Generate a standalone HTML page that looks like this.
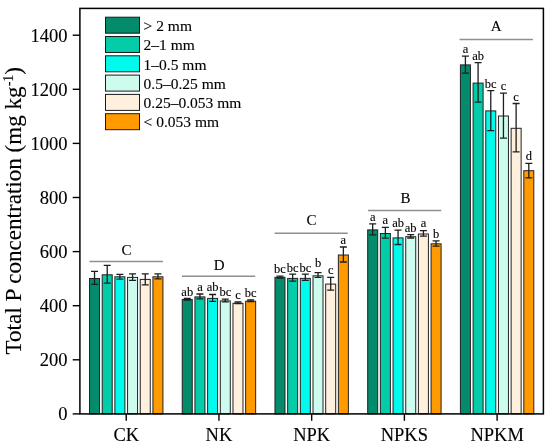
<!DOCTYPE html>
<html><head><meta charset="utf-8"><style>
html,body{margin:0;padding:0;background:#fff;}
svg{display:block;font-family:"Liberation Serif", serif;fill:#000;will-change:transform;}
svg text{font-family:"Liberation Serif", serif;fill:#000;stroke:#000;stroke-width:0.12px;}
</style></head><body>
<svg width="550" height="447" viewBox="0 0 550 447">
<rect x="0" y="0" width="550" height="447" fill="#fff"/>
<rect x="89.53" y="278.50" width="10.00" height="135.40" fill="#038b6b" stroke="#222" stroke-width="1"/>
<rect x="102.21" y="274.80" width="10.00" height="139.10" fill="#05cca8" stroke="#222" stroke-width="1"/>
<rect x="114.89" y="276.80" width="10.00" height="137.10" fill="#00fbec" stroke="#222" stroke-width="1"/>
<rect x="127.57" y="277.40" width="10.00" height="136.50" fill="#cdfcee" stroke="#222" stroke-width="1"/>
<rect x="140.25" y="279.40" width="10.00" height="134.50" fill="#fff0de" stroke="#222" stroke-width="1"/>
<rect x="152.93" y="276.80" width="10.00" height="137.10" fill="#ff9b00" stroke="#222" stroke-width="1"/>
<rect x="182.25" y="299.50" width="10.00" height="114.40" fill="#038b6b" stroke="#222" stroke-width="1"/>
<rect x="194.93" y="296.90" width="10.00" height="117.00" fill="#05cca8" stroke="#222" stroke-width="1"/>
<rect x="207.61" y="298.40" width="10.00" height="115.50" fill="#00fbec" stroke="#222" stroke-width="1"/>
<rect x="220.29" y="300.90" width="10.00" height="113.00" fill="#cdfcee" stroke="#222" stroke-width="1"/>
<rect x="232.97" y="303.30" width="10.00" height="110.60" fill="#fff0de" stroke="#222" stroke-width="1"/>
<rect x="245.65" y="301.20" width="10.00" height="112.70" fill="#ff9b00" stroke="#222" stroke-width="1"/>
<rect x="274.97" y="277.30" width="10.00" height="136.60" fill="#038b6b" stroke="#222" stroke-width="1"/>
<rect x="287.65" y="278.40" width="10.00" height="135.50" fill="#05cca8" stroke="#222" stroke-width="1"/>
<rect x="300.33" y="278.40" width="10.00" height="135.50" fill="#00fbec" stroke="#222" stroke-width="1"/>
<rect x="313.01" y="275.80" width="10.00" height="138.10" fill="#cdfcee" stroke="#222" stroke-width="1"/>
<rect x="325.69" y="284.10" width="10.00" height="129.80" fill="#fff0de" stroke="#222" stroke-width="1"/>
<rect x="338.37" y="255.00" width="10.00" height="158.90" fill="#ff9b00" stroke="#222" stroke-width="1"/>
<rect x="367.69" y="229.90" width="10.00" height="184.00" fill="#038b6b" stroke="#222" stroke-width="1"/>
<rect x="380.37" y="233.50" width="10.00" height="180.40" fill="#05cca8" stroke="#222" stroke-width="1"/>
<rect x="393.05" y="237.90" width="10.00" height="176.00" fill="#00fbec" stroke="#222" stroke-width="1"/>
<rect x="405.73" y="236.70" width="10.00" height="177.20" fill="#cdfcee" stroke="#222" stroke-width="1"/>
<rect x="418.41" y="234.00" width="10.00" height="179.90" fill="#fff0de" stroke="#222" stroke-width="1"/>
<rect x="431.09" y="243.80" width="10.00" height="170.10" fill="#ff9b00" stroke="#222" stroke-width="1"/>
<rect x="460.41" y="64.90" width="10.00" height="349.00" fill="#038b6b" stroke="#222" stroke-width="1"/>
<rect x="473.09" y="83.10" width="10.00" height="330.80" fill="#05cca8" stroke="#222" stroke-width="1"/>
<rect x="485.77" y="110.90" width="10.00" height="303.00" fill="#00fbec" stroke="#222" stroke-width="1"/>
<rect x="498.45" y="116.00" width="10.00" height="297.90" fill="#cdfcee" stroke="#222" stroke-width="1"/>
<rect x="511.13" y="128.30" width="10.00" height="285.60" fill="#fff0de" stroke="#222" stroke-width="1"/>
<rect x="523.81" y="170.70" width="10.00" height="243.20" fill="#ff9b00" stroke="#222" stroke-width="1"/>
<path d="M94.53 271.30V284.40M91.03 271.30H98.03M91.03 284.40H98.03" stroke="#1e1e1e" stroke-width="1.3" fill="none"/>
<path d="M107.21 265.40V283.20M103.71 265.40H110.71M103.71 283.20H110.71" stroke="#1e1e1e" stroke-width="1.3" fill="none"/>
<path d="M119.89 274.40V279.20M116.39 274.40H123.39M116.39 279.20H123.39" stroke="#1e1e1e" stroke-width="1.3" fill="none"/>
<path d="M132.57 273.90V280.30M129.07 273.90H136.07M129.07 280.30H136.07" stroke="#1e1e1e" stroke-width="1.3" fill="none"/>
<path d="M145.25 273.90V284.80M141.75 273.90H148.75M141.75 284.80H148.75" stroke="#1e1e1e" stroke-width="1.3" fill="none"/>
<path d="M157.93 273.90V278.80M154.43 273.90H161.43M154.43 278.80H161.43" stroke="#1e1e1e" stroke-width="1.3" fill="none"/>
<path d="M187.25 298.50V300.20M183.75 298.50H190.75M183.75 300.20H190.75" stroke="#1e1e1e" stroke-width="1.3" fill="none"/>
<text x="187.25" y="295.80" font-size="12.5" text-anchor="middle">ab</text>
<path d="M199.93 294.00V298.90M196.43 294.00H203.43M196.43 298.90H203.43" stroke="#1e1e1e" stroke-width="1.3" fill="none"/>
<text x="199.93" y="290.80" font-size="12.5" text-anchor="middle">a</text>
<path d="M212.61 294.50V301.30M209.11 294.50H216.11M209.11 301.30H216.11" stroke="#1e1e1e" stroke-width="1.3" fill="none"/>
<text x="212.61" y="290.80" font-size="12.5" text-anchor="middle">ab</text>
<path d="M225.29 299.10V301.80M221.79 299.10H228.79M221.79 301.80H228.79" stroke="#1e1e1e" stroke-width="1.3" fill="none"/>
<text x="225.29" y="295.90" font-size="12.5" text-anchor="middle">bc</text>
<path d="M237.97 302.00V303.60M234.47 302.00H241.47M234.47 303.60H241.47" stroke="#1e1e1e" stroke-width="1.3" fill="none"/>
<text x="237.97" y="298.80" font-size="12.5" text-anchor="middle">c</text>
<path d="M250.65 300.00V301.60M247.15 300.00H254.15M247.15 301.60H254.15" stroke="#1e1e1e" stroke-width="1.3" fill="none"/>
<text x="250.65" y="297.40" font-size="12.5" text-anchor="middle">bc</text>
<path d="M279.97 276.20V278.00M276.47 276.20H283.47M276.47 278.00H283.47" stroke="#1e1e1e" stroke-width="1.3" fill="none"/>
<text x="279.97" y="272.90" font-size="12.5" text-anchor="middle">bc</text>
<path d="M292.65 274.20V281.20M289.15 274.20H296.15M289.15 281.20H296.15" stroke="#1e1e1e" stroke-width="1.3" fill="none"/>
<text x="292.65" y="272.40" font-size="12.5" text-anchor="middle">bc</text>
<path d="M305.33 274.20V280.30M301.83 274.20H308.83M301.83 280.30H308.83" stroke="#1e1e1e" stroke-width="1.3" fill="none"/>
<text x="305.33" y="272.40" font-size="12.5" text-anchor="middle">bc</text>
<path d="M318.01 272.70V277.30M314.51 272.70H321.51M314.51 277.30H321.51" stroke="#1e1e1e" stroke-width="1.3" fill="none"/>
<text x="318.01" y="266.90" font-size="12.5" text-anchor="middle">b</text>
<path d="M330.69 277.30V290.20M327.19 277.30H334.19M327.19 290.20H334.19" stroke="#1e1e1e" stroke-width="1.3" fill="none"/>
<text x="330.69" y="273.90" font-size="12.5" text-anchor="middle">c</text>
<path d="M343.37 247.00V262.00M339.87 247.00H346.87M339.87 262.00H346.87" stroke="#1e1e1e" stroke-width="1.3" fill="none"/>
<text x="343.37" y="243.90" font-size="12.5" text-anchor="middle">a</text>
<path d="M372.69 223.80V234.90M369.19 223.80H376.19M369.19 234.90H376.19" stroke="#1e1e1e" stroke-width="1.3" fill="none"/>
<text x="372.69" y="221.00" font-size="12.5" text-anchor="middle">a</text>
<path d="M385.37 227.40V238.20M381.87 227.40H388.87M381.87 238.20H388.87" stroke="#1e1e1e" stroke-width="1.3" fill="none"/>
<text x="385.37" y="224.30" font-size="12.5" text-anchor="middle">a</text>
<path d="M398.05 230.20V244.50M394.55 230.20H401.55M394.55 244.50H401.55" stroke="#1e1e1e" stroke-width="1.3" fill="none"/>
<text x="398.05" y="227.10" font-size="12.5" text-anchor="middle">ab</text>
<path d="M410.73 234.70V238.00M407.23 234.70H414.23M407.23 238.00H414.23" stroke="#1e1e1e" stroke-width="1.3" fill="none"/>
<text x="410.73" y="231.80" font-size="12.5" text-anchor="middle">ab</text>
<path d="M423.41 230.70V236.20M419.91 230.70H426.91M419.91 236.20H426.91" stroke="#1e1e1e" stroke-width="1.3" fill="none"/>
<text x="423.41" y="227.40" font-size="12.5" text-anchor="middle">a</text>
<path d="M436.09 240.80V246.10M432.59 240.80H439.59M432.59 246.10H439.59" stroke="#1e1e1e" stroke-width="1.3" fill="none"/>
<text x="436.09" y="237.60" font-size="12.5" text-anchor="middle">b</text>
<path d="M465.41 56.10V73.10M461.91 56.10H468.91M461.91 73.10H468.91" stroke="#1e1e1e" stroke-width="1.3" fill="none"/>
<text x="465.41" y="53.00" font-size="12.5" text-anchor="middle">a</text>
<path d="M478.09 62.70V102.20M474.59 62.70H481.59M474.59 102.20H481.59" stroke="#1e1e1e" stroke-width="1.3" fill="none"/>
<text x="478.09" y="59.90" font-size="12.5" text-anchor="middle">ab</text>
<path d="M490.77 90.60V130.60M487.27 90.60H494.27M487.27 130.60H494.27" stroke="#1e1e1e" stroke-width="1.3" fill="none"/>
<text x="490.77" y="87.50" font-size="12.5" text-anchor="middle">bc</text>
<path d="M503.45 93.10V138.20M499.95 93.10H506.95M499.95 138.20H506.95" stroke="#1e1e1e" stroke-width="1.3" fill="none"/>
<text x="503.45" y="90.00" font-size="12.5" text-anchor="middle">c</text>
<path d="M516.13 103.50V151.80M512.63 103.50H519.63M512.63 151.80H519.63" stroke="#1e1e1e" stroke-width="1.3" fill="none"/>
<text x="516.13" y="100.80" font-size="12.5" text-anchor="middle">c</text>
<path d="M528.81 163.40V177.80M525.31 163.40H532.31M525.31 177.80H532.31" stroke="#1e1e1e" stroke-width="1.3" fill="none"/>
<text x="528.81" y="159.50" font-size="12.5" text-anchor="middle">d</text>
<line x1="89.5" y1="261.4" x2="162.9" y2="261.4" stroke="#8f8f8f" stroke-width="1.5"/>
<line x1="182.0" y1="276.2" x2="255.2" y2="276.2" stroke="#8f8f8f" stroke-width="1.5"/>
<line x1="274.6" y1="233.2" x2="347.7" y2="233.2" stroke="#8f8f8f" stroke-width="1.5"/>
<line x1="368.0" y1="210.5" x2="441.3" y2="210.5" stroke="#8f8f8f" stroke-width="1.5"/>
<line x1="459.6" y1="39.4" x2="532.9" y2="39.4" stroke="#8f8f8f" stroke-width="1.5"/>
<text x="126.4" y="254.7" font-size="15" text-anchor="middle">C</text>
<text x="219.2" y="270.0" font-size="15" text-anchor="middle">D</text>
<text x="311.5" y="225.1" font-size="15" text-anchor="middle">C</text>
<text x="405.5" y="202.9" font-size="15" text-anchor="middle">B</text>
<text x="496.2" y="31.0" font-size="15" text-anchor="middle">A</text>
<rect x="79.9" y="8.4" width="463.5" height="405.5" fill="none" stroke="#000" stroke-width="1.5"/>
<line x1="72.7" y1="413.90" x2="79.9" y2="413.90" stroke="#000" stroke-width="1.4"/>
<text x="67.6" y="420.20" font-size="18.5" text-anchor="end">0</text>
<line x1="72.7" y1="359.80" x2="79.9" y2="359.80" stroke="#000" stroke-width="1.4"/>
<text x="67.6" y="366.10" font-size="18.5" text-anchor="end">200</text>
<line x1="72.7" y1="305.70" x2="79.9" y2="305.70" stroke="#000" stroke-width="1.4"/>
<text x="67.6" y="312.00" font-size="18.5" text-anchor="end">400</text>
<line x1="72.7" y1="251.60" x2="79.9" y2="251.60" stroke="#000" stroke-width="1.4"/>
<text x="67.6" y="257.90" font-size="18.5" text-anchor="end">600</text>
<line x1="72.7" y1="197.50" x2="79.9" y2="197.50" stroke="#000" stroke-width="1.4"/>
<text x="67.6" y="203.80" font-size="18.5" text-anchor="end">800</text>
<line x1="72.7" y1="143.40" x2="79.9" y2="143.40" stroke="#000" stroke-width="1.4"/>
<text x="67.6" y="149.70" font-size="18.5" text-anchor="end">1000</text>
<line x1="72.7" y1="89.30" x2="79.9" y2="89.30" stroke="#000" stroke-width="1.4"/>
<text x="67.6" y="95.60" font-size="18.5" text-anchor="end">1200</text>
<line x1="72.7" y1="35.20" x2="79.9" y2="35.20" stroke="#000" stroke-width="1.4"/>
<text x="67.6" y="41.50" font-size="18.5" text-anchor="end">1400</text>
<line x1="126.23" y1="413.9" x2="126.23" y2="420.8" stroke="#000" stroke-width="1.4"/>
<text x="126.23" y="440.7" font-size="18.5" text-anchor="middle">CK</text>
<line x1="218.95" y1="413.9" x2="218.95" y2="420.8" stroke="#000" stroke-width="1.4"/>
<text x="218.95" y="440.7" font-size="18.5" text-anchor="middle">NK</text>
<line x1="311.67" y1="413.9" x2="311.67" y2="420.8" stroke="#000" stroke-width="1.4"/>
<text x="311.67" y="440.7" font-size="18.5" text-anchor="middle">NPK</text>
<line x1="404.39" y1="413.9" x2="404.39" y2="420.8" stroke="#000" stroke-width="1.4"/>
<text x="404.39" y="440.7" font-size="18.5" text-anchor="middle">NPKS</text>
<line x1="497.11" y1="413.9" x2="497.11" y2="420.8" stroke="#000" stroke-width="1.4"/>
<text x="497.11" y="440.7" font-size="18.5" text-anchor="middle">NPKM</text>
<rect x="105.5" y="17.20" width="34" height="16" fill="#038b6b" stroke="#1a1a1a" stroke-width="1"/>
<text x="143.6" y="30.90" font-size="15.5">&gt; 2 mm</text>
<rect x="105.5" y="36.50" width="34" height="16" fill="#05cca8" stroke="#1a1a1a" stroke-width="1"/>
<text x="143.6" y="50.20" font-size="15.5">2&#8211;1 mm</text>
<rect x="105.5" y="55.80" width="34" height="16" fill="#00fbec" stroke="#1a1a1a" stroke-width="1"/>
<text x="143.6" y="69.50" font-size="15.5">1&#8211;0.5 mm</text>
<rect x="105.5" y="75.10" width="34" height="16" fill="#cdfcee" stroke="#1a1a1a" stroke-width="1"/>
<text x="143.6" y="88.80" font-size="15.5">0.5&#8211;0.25 mm</text>
<rect x="105.5" y="94.40" width="34" height="16" fill="#fff0de" stroke="#1a1a1a" stroke-width="1"/>
<text x="143.6" y="108.10" font-size="15.5">0.25&#8211;0.053 mm</text>
<rect x="105.5" y="113.70" width="34" height="16" fill="#ff9b00" stroke="#1a1a1a" stroke-width="1"/>
<text x="143.6" y="127.40" font-size="15.5">&lt; 0.053 mm</text>
<text transform="translate(20.6,354.5) rotate(-90)" font-size="23.1">Total P concentration (mg kg<tspan dy="-8" font-size="14">-1</tspan><tspan dy="8">)</tspan></text>
</svg>
</body></html>
